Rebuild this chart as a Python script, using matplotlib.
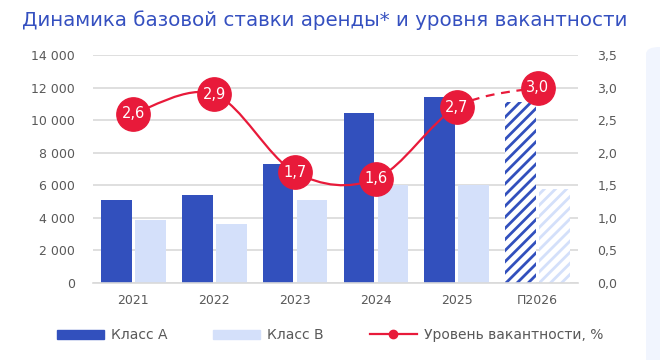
import matplotlib
matplotlib.use("Agg")
import matplotlib.pyplot as plt
from matplotlib.path import Path
from matplotlib.patches import PathPatch, FancyBboxPatch, Patch
from matplotlib.lines import Line2D
import numpy as np

years = ["2021", "2022", "2023", "2024", "2025", "П2026"]
klass_a = [5100, 5400, 7300, 10450, 11450, 11100]
klass_b = [3870, 3620, 5100, 6000, 6000, 5750]
vacancy = [2.6, 2.9, 1.7, 1.6, 2.7, 3.0]
vac_labels = ["2,6", "2,9", "1,7", "1,6", "2,7", "3,0"]
left_ticks = [0, 2000, 4000, 6000, 8000, 10000, 12000, 14000]
left_labels = ["0", "2 000", "4 000", "6 000", "8 000", "10 000", "12 000", "14 000"]
right_ticks = [0, 0.5, 1.0, 1.5, 2.0, 2.5, 3.0, 3.5]
right_labels = ["0,0", "0,5", "1,0", "1,5", "2,0", "2,5", "3,0", "3,5"]

blue = "#3250bd"
light = "#d4e0fa"
red = "#e81a3a"
grey = "#595959"

plt.rcParams["font.family"] = ["DejaVu Sans"]
plt.rcParams["hatch.linewidth"] = 2.0

fig = plt.figure(figsize=(6.6, 3.6), dpi=100)
fig.patch.set_facecolor("white")

# panel on the right edge
fig.patches.append(FancyBboxPatch((646 / 660, -0.1), 0.2, 1.1 - 47 / 360,
                                  boxstyle="round,pad=0,rounding_size=0.02",
                                  transform=fig.transFigure, facecolor="#f1f5fe",
                                  edgecolor="none", zorder=0))

ax = fig.add_axes([93 / 660, 1 - 283 / 360, 485 / 660, 228 / 360])
ax.set_facecolor("none")
x = np.arange(len(years))
w = 0.38
off = 0.21
n = len(years)
for i in range(n):
    if i < n - 1:
        ax.bar(x[i] - off, klass_a[i], w, color=blue, zorder=2)
        ax.bar(x[i] + off, klass_b[i], w, color=light, zorder=2)
    else:
        ax.bar(x[i] - off, klass_a[i], w, facecolor="white", edgecolor=blue,
               hatch="///", linewidth=0, zorder=2)
        ax.bar(x[i] + off, klass_b[i], w, facecolor="white", edgecolor=light,
               hatch="///", linewidth=0, zorder=2)

ax.set_xlim(-0.5, n - 0.5)
ax.set_ylim(0, 14000)
ax.set_yticks(left_ticks)
ax.set_yticklabels(left_labels)
ax.set_xticks(x)
ax.set_xticklabels(years)
ax.grid(axis="y", color="#d9d9d9", linewidth=1.2, zorder=0)
ax.set_axisbelow(True)
for s in ["top", "right", "left"]:
    ax.spines[s].set_visible(False)
ax.spines["bottom"].set_color("#d9d9d9")
ax.spines["bottom"].set_linewidth(1.2)
ax.tick_params(axis="both", length=0, colors=grey, labelsize=9)
ax.tick_params(axis="y", pad=13)
ax.tick_params(axis="x", pad=8)

ax2 = ax.twinx()
ax2.set_ylim(0, 3.5)
ax2.set_yticks(right_ticks)
ax2.set_yticklabels(right_labels)
for s in ax2.spines:
    ax2.spines[s].set_visible(False)
ax2.tick_params(axis="y", length=0, colors=grey, labelsize=9, pad=14)

# smoothed line (Bezier segments, Excel-style)
pts = np.column_stack([x, vacancy]).astype(float)
for i in range(n - 1):
    p0 = pts[max(i - 1, 0)]
    p1 = pts[i]
    p2 = pts[i + 1]
    p3 = pts[min(i + 2, n - 1)]
    c1 = p1 + (p2 - p0) / 6
    c2 = p2 - (p3 - p1) / 6
    path = Path([p1, c1, c2, p2], [Path.MOVETO, Path.CURVE4, Path.CURVE4, Path.CURVE4])
    ls = (0, (4, 3)) if i == n - 2 else "-"
    ax2.add_patch(PathPatch(path, facecolor="none", edgecolor=red, linewidth=1.6,
                            linestyle=ls, zorder=3))

ax2.plot(x, vacancy, "o", color=red, markersize=24, zorder=4)
for i in range(n):
    ax2.text(x[i], vacancy[i], vac_labels[i], color="white", fontsize=10.5,
             ha="center", va="center", zorder=5)

fig.text(22 / 660, 1 - 20 / 360, "Динамика базовой ставки аренды* и уровня вакантности",
         color="#3550c0", fontsize=14.35, ha="left", va="center")

handles = [Patch(color=blue), Patch(color=light),
           Line2D([0], [0], color=red, lw=1.6, marker="o", markersize=6)]
fig.legend(handles, ["Класс А", "Класс В", "Уровень вакантности, %"],
           loc="center", bbox_to_anchor=(0.5, 1 - 335 / 360), ncol=3, frameon=False,
           fontsize=10, handlelength=3.4, handleheight=0.6, columnspacing=3.3,
           handletextpad=0.5, labelcolor=grey)

fig.savefig("out.png", dpi=100)
